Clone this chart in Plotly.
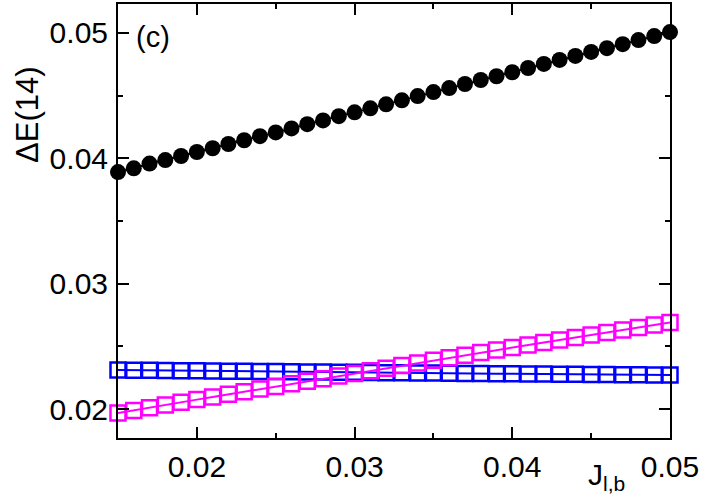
import plotly.graph_objects as go

J = [0.015, 0.016, 0.017, 0.018, 0.019, 0.020, 0.021, 0.022, 0.023, 0.024,
     0.025, 0.026, 0.027, 0.028, 0.029, 0.030, 0.031, 0.032, 0.033, 0.034,
     0.035, 0.036, 0.037, 0.038, 0.039, 0.040, 0.041, 0.042, 0.043, 0.044,
     0.045, 0.046, 0.047, 0.048, 0.049, 0.050]

black_vals = [0.0389, 0.0392, 0.03958, 0.03986, 0.04018, 0.0405, 0.0408, 0.04114,
              0.04144, 0.04176, 0.04206, 0.04238, 0.04272, 0.04302, 0.04336, 0.04366,
              0.04398, 0.0443, 0.04462, 0.04496, 0.04528, 0.0456, 0.04592, 0.04624,
              0.04654, 0.04686, 0.0472, 0.04752, 0.04784, 0.04816, 0.04848, 0.04878,
              0.0491, 0.04942, 0.04974, 0.05006]

magenta_vals = [0.01970, 0.01990, 0.02012, 0.02034, 0.02055, 0.02076, 0.02097, 0.02118,
                0.02139, 0.02160, 0.02181, 0.02202, 0.02222, 0.02243, 0.02264, 0.02285,
                0.02306, 0.02327, 0.02348, 0.02368, 0.02389, 0.02410, 0.02430, 0.02451,
                0.02471, 0.02491, 0.02512, 0.02532, 0.02552, 0.02572, 0.02592, 0.02612,
                0.02632, 0.02651, 0.02671, 0.02690]

blue_vals = [0.02312, 0.02311, 0.02310, 0.02308, 0.02307, 0.02306, 0.02305, 0.02303,
             0.02302, 0.02301, 0.02300, 0.02298, 0.02297, 0.02296, 0.02295, 0.02294,
             0.02292, 0.02291, 0.02290, 0.02289, 0.02288, 0.02287, 0.02285, 0.02284,
             0.02283, 0.02282, 0.02281, 0.02280, 0.02279, 0.02278, 0.02277, 0.02276,
             0.02275, 0.02274, 0.02273, 0.02272]

x_ticks = [0.02, 0.03, 0.04, 0.05]
x_ticklabels = ["0.02", "0.03", "0.04", "0.05"]
y_ticks = [0.02, 0.03, 0.04, 0.05]
y_ticklabels = ["0.02", "0.03", "0.04", "0.05"]

FONT = "Liberation Sans, Arial, Helvetica, sans-serif"

fig = go.Figure()
fig.add_trace(go.Scatter(
    x=J, y=blue_vals, mode="lines+markers", cliponaxis=False,
    line=dict(color="#0000FF", width=2),
    marker=dict(symbol="square-open", size=15, color="#0000FF",
                line=dict(color="#0000FF", width=2.5)),
    showlegend=False))
fig.add_trace(go.Scatter(
    x=J, y=magenta_vals, mode="lines+markers", cliponaxis=False,
    line=dict(color="#FF00FF", width=2),
    marker=dict(symbol="square-open", size=15, color="#FF00FF",
                line=dict(color="#FF00FF", width=2.5)),
    showlegend=False))
fig.add_trace(go.Scatter(
    x=J, y=black_vals, mode="lines+markers", cliponaxis=False,
    line=dict(color="black", width=2),
    marker=dict(symbol="circle", size=16, color="black"),
    showlegend=False))

axis_common = dict(
    showline=True, linecolor="black", linewidth=2, mirror="ticks",
    ticks="inside", ticklen=11, tickwidth=2, tickcolor="black",
    showgrid=False, zeroline=False, automargin=False,
    tickfont=dict(family=FONT, size=30, color="black"),
    minor=dict(ticks="inside", ticklen=5, tickwidth=1.5, tickcolor="black",
               dtick=0.005, showgrid=False),
)

fig.update_xaxes(range=[0.015, 0.05], tickvals=x_ticks, ticktext=x_ticklabels,
                 ticklabelstandoff=1, **axis_common)
fig.update_yaxes(range=[0.0177, 0.0523], tickvals=y_ticks, ticktext=y_ticklabels,
                 ticklabelstandoff=2, **axis_common)

fig.add_annotation(text="ΔE(14)", xref="paper", yref="paper",
                   x=-0.165, y=0.7465, textangle=-90, showarrow=False,
                   font=dict(family=FONT, size=31, color="black"),
                   xanchor="center", yanchor="middle")
fig.add_annotation(text="J<sub>l,b</sub>", xref="paper", yref="paper",
                   x=0.885, y=-0.088, showarrow=False,
                   font=dict(family=FONT, size=30, color="black"),
                   xanchor="center", yanchor="middle")
fig.add_annotation(text="(c)", xref="paper", yref="paper",
                   x=0.029, y=0.923, showarrow=False,
                   font=dict(family=FONT, size=29, color="black"),
                   xanchor="left", yanchor="middle")

fig.update_layout(
    template="none",
    width=713, height=499,
    margin=dict(l=118, r=43, t=4, b=61),
    paper_bgcolor="white", plot_bgcolor="white",
    font=dict(family=FONT, color="black"),
)

fig.write_html("out.html", config={"displayModeBar": False},
               post_script="document.body.style.margin='0';document.body.style.overflow='hidden';")
